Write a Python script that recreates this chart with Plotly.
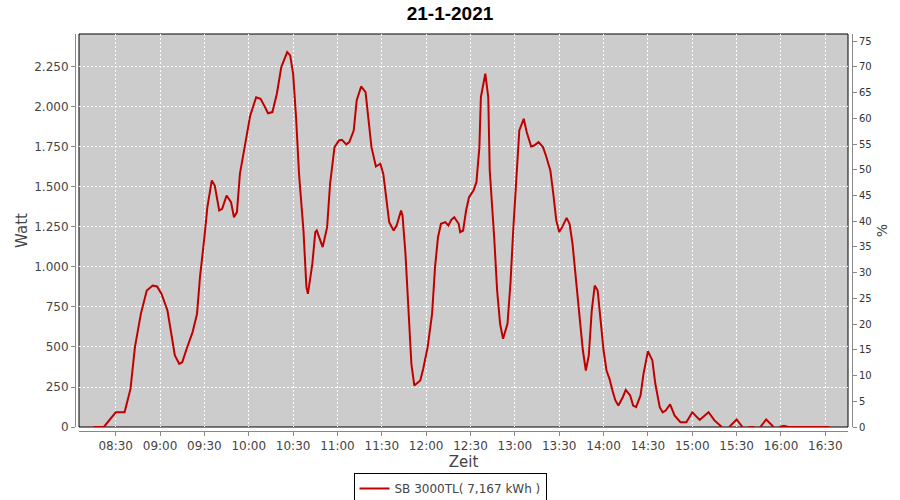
import plotly.graph_objects as go

# ---------------- data ----------------
date = "2021-01-21"
chart_title = "21-1-2021"
series_name = "SB 3000TL( 7,167 kWh )"

times = [
    "08:15", "08:22", "08:30", "08:36", "08:40", "08:43", "08:47", "08:51", "08:55", "08:58",
    "09:01", "09:05", "09:08", "09:10", "09:13", "09:15", "09:18", "09:22", "09:25", "09:27",
    "09:30", "09:32", "09:35", "09:37", "09:40", "09:42", "09:45", "09:48", "09:50", "09:52",
    "09:54", "09:58", "10:01", "10:05", "10:08", "10:11", "10:13", "10:16", "10:19", "10:22",
    "10:26", "10:28", "10:30", "10:32", "10:34", "10:37", "10:39", "10:40", "10:43", "10:45",
    "10:46", "10:48", "10:50", "10:53", "10:55", "10:58", "11:01", "11:03", "11:06", "11:08",
    "11:11", "11:13", "11:16", "11:19", "11:21", "11:23", "11:26", "11:29", "11:31", "11:33",
    "11:35", "11:38", "11:40", "11:43", "11:44", "11:46", "11:48", "11:50", "11:52", "11:56",
    "11:58", "12:01", "12:04", "12:06", "12:08", "12:10", "12:13", "12:15", "12:17", "12:19",
    "12:22", "12:23", "12:25", "12:27", "12:29", "12:32", "12:34", "12:36", "12:37", "12:40",
    "12:42", "12:43", "12:46", "12:48", "12:50", "12:52", "12:55", "12:57", "12:59", "13:01",
    "13:03", "13:06", "13:08", "13:11", "13:13", "13:16", "13:19", "13:21", "13:24", "13:26",
    "13:28", "13:30", "13:32", "13:35", "13:37", "13:39", "13:41", "13:44", "13:46", "13:48",
    "13:50", "13:52", "13:54", "13:56", "13:58", "14:00", "14:02", "14:04", "14:06", "14:08",
    "14:10", "14:13", "14:15", "14:18", "14:20", "14:22", "14:25", "14:27", "14:30", "14:33",
    "14:35", "14:38", "14:40", "14:42", "14:45", "14:48", "14:52", "14:56", "15:00", "15:05",
    "15:11", "15:15", "15:20", "15:22", "15:25", "15:30", "15:34", "15:36", "15:38", "15:42",
    "15:44", "15:46", "15:50", "15:55", "15:57", "15:59", "16:02", "16:05", "16:33",
]

watt = [
    0, 0, 92, 92, 238, 499, 707, 853, 884, 878,
    832, 728, 561, 447, 395, 405, 489, 593, 707, 936,
    1186, 1374, 1541, 1509, 1353, 1364, 1447, 1405, 1311, 1343,
    1582, 1791, 1947, 2061, 2051, 1999, 1961, 1968, 2083, 2249,
    2343, 2322, 2208, 1936, 1582, 1228, 874, 832, 1020, 1218,
    1228, 1176, 1124, 1249, 1520, 1749, 1791, 1795, 1766, 1780,
    1853, 2041, 2128, 2093, 1936, 1749, 1628, 1645, 1582, 1416,
    1280, 1228, 1259, 1353, 1322, 1083, 707, 395, 259, 291,
    364, 499, 707, 999, 1186, 1270, 1280, 1259, 1295, 1311,
    1270, 1218, 1228, 1353, 1436, 1478, 1530, 1749, 2061, 2208,
    2061, 1603, 1186, 853, 645, 551, 645, 895, 1249, 1582,
    1853, 1926, 1843, 1753, 1759, 1780, 1749, 1697, 1603, 1457,
    1291, 1218, 1249, 1307, 1270, 1145, 936, 666, 478, 353,
    447, 728, 884, 853, 666, 478, 353, 301, 228, 166,
    134, 186, 232, 197, 134, 124, 197, 332, 474, 416,
    270, 124, 92, 103, 141, 72, 30, 30, 92, 44,
    92, 41, 0, None, 0, 47, 0, None, 0, 0,
    None, 0, 47, 0, None, 0, 8, 0, 0,
]

watt_ticks_step = 250
pct_ticks_step = 5
watt_range = [0, 2456]
pct_range = [0, 76.4]
x_range = [f"{date} 08:05:10", f"{date} 16:45:20"]

# ---------------- figure ----------------
x = [f"{date} {t}" for t in times]

W, H = 900, 500
ml, mr, mt, mb = 75, 48, 34, 69
pw, ph = W - ml - mr, H - mt - mb
off = 4

font = "DejaVu Sans"
axis_grey = "#888888"
label_grey = "#444444"

fig = go.Figure()
fig.add_trace(go.Scatter(
    x=x, y=watt, mode="lines", name=series_name,
    line=dict(color="#c00000", width=2), connectgaps=False,
    yaxis="y", hoverinfo="x+y",
))
fig.add_trace(go.Scatter(x=[], y=[], yaxis="y2", showlegend=False, hoverinfo="skip"))

fig.update_layout(
    width=W, height=H,
    margin=dict(l=ml, r=mr, t=mt, b=mb, pad=0, autoexpand=False),
    paper_bgcolor="white",
    plot_bgcolor="#cccccc",
    separators=",.",
    font=dict(family=font, size=12, color=label_grey),
    title=dict(
        text=chart_title, x=0.5, xref="container", xanchor="center",
        y=1 - 13 / H, yref="container", yanchor="middle",
        font=dict(family="Liberation Sans, Arial, sans-serif",
                  size=19, color="black", weight="bold"),
        automargin=False,
    ),
    xaxis=dict(
        domain=[off / pw, 1 - off / pw], anchor="free", position=0,
        type="date", range=x_range, tickformat="%H:%M",
        tick0=f"{date} 08:00", dtick=30 * 60 * 1000,
        showgrid=True, gridcolor="white", gridwidth=1, griddash="2px,2px",
        showline=True, linecolor=axis_grey, linewidth=1,
        ticks="outside", ticklen=4, tickcolor=axis_grey,
        tickfont=dict(family=font, size=12, color=label_grey),
        title=dict(text="Zeit", font=dict(family=font, size=15, color=label_grey), standoff=3),
        zeroline=False, automargin=False,
    ),
    yaxis=dict(
        domain=[off / ph, 1], anchor="free", position=0,
        range=watt_range, dtick=watt_ticks_step, tick0=0, tickformat=",d",
        showgrid=True, gridcolor="white", gridwidth=1, griddash="2px,2px",
        showline=True, linecolor=axis_grey, linewidth=1,
        ticks="outside", ticklen=4, tickcolor=axis_grey,
        tickfont=dict(family=font, size=12, color=label_grey),
        title=dict(text="Watt", font=dict(family=font, size=15, color=label_grey), standoff=1),
        zeroline=False, automargin=False,
    ),
    yaxis2=dict(
        overlaying="y", side="right", anchor="free", position=1,
        range=pct_range, dtick=pct_ticks_step, tick0=0,
        showgrid=False, zeroline=False,
        showline=True, linecolor=axis_grey, linewidth=1,
        ticks="outside", ticklen=4, tickcolor=axis_grey,
        tickfont=dict(family=font, size=10, color="#333333"),
        title=dict(text="%", font=dict(family=font, size=14, color=label_grey), standoff=6),
        automargin=False,
    ),
    legend=dict(
        orientation="h", x=(450 - ml) / pw, xanchor="center",
        y=(H - mb - 473) / ph, yanchor="top",
        bordercolor="black", borderwidth=1, bgcolor="white",
        font=dict(family=font, size=12, color=label_grey),
        itemwidth=30,
    ),
    shapes=[dict(
        type="rect", xref="x domain", yref="y domain",
        x0=0, x1=1, y0=0, y1=1,
        line=dict(color="black", width=1), layer="below",
    )],
    showlegend=True,
)

fig.write_html(
    "out.html",
    config={"displayModeBar": False},
    post_script="document.body.style.margin='0';",
)
